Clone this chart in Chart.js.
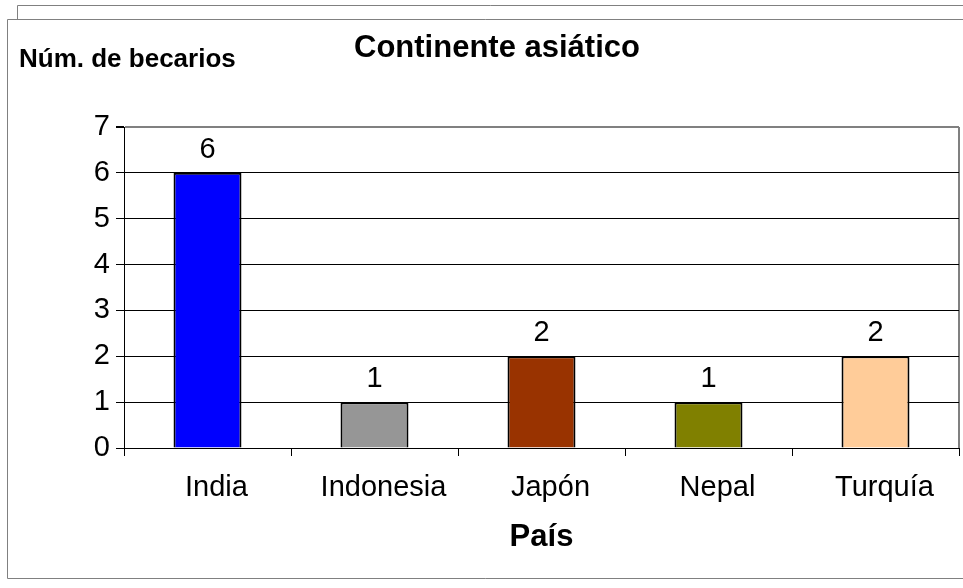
<!DOCTYPE html>
<html>
<head>
<meta charset="utf-8">
<script src="https://cdn.jsdelivr.net/npm/chart.js@4/dist/chart.umd.min.js"></script>
<style>
  html, body { margin: 0; padding: 0; background: #fff; }
  #wrap { width: 963px; height: 588px; }
</style>
</head>
<body>
<div id="wrap"><canvas id="chart" width="963" height="588"></canvas></div>
<script>
const countries = ['India', 'Indonesia', 'Japón', 'Nepal', 'Turquía'];
const scholars = [6, 1, 2, 1, 2];
const barColors = ['#0000FF', '#969696', '#993300', '#808000', '#FFCC99'];
const yTicks = [0, 1, 2, 3, 4, 5, 6, 7];

const FONT = "'Liberation Sans', Arial, sans-serif";

// frame, plot border and texts drawn around the chart
const decor = {
  id: 'decor',
  beforeDraw(chart) {
    const ctx = chart.ctx;
    const a = chart.chartArea;
    ctx.save();
    ctx.fillStyle = '#fff';
    ctx.fillRect(0, 0, chart.width, chart.height);
    ctx.strokeStyle = '#808080';
    ctx.lineWidth = 1;
    ctx.beginPath();
    ctx.moveTo(17.5, 19); ctx.lineTo(17.5, 5.5); ctx.lineTo(963, 5.5);
    ctx.moveTo(963, 19.5); ctx.lineTo(7.5, 19.5); ctx.lineTo(7.5, 578.5); ctx.lineTo(963, 578.5);
    ctx.stroke();
    // plot area border (right side)
    ctx.lineWidth = 2;
    ctx.beginPath();
    ctx.moveTo(a.right, a.top); ctx.lineTo(a.right, a.bottom);
    ctx.stroke();
    ctx.restore();
  },
  afterDraw(chart) {
    const ctx = chart.ctx;
    const a = chart.chartArea;
    ctx.save();
    ctx.fillStyle = '#000';
    ctx.textBaseline = 'alphabetic';
    ctx.font = 'bold 31px ' + FONT;
    ctx.textAlign = 'center';
    ctx.fillText('Continente asiático', 497, 57);
    ctx.fillText('País', (a.left + a.right) / 2, 546);
    ctx.font = 'bold 26px ' + FONT;
    ctx.textAlign = 'left';
    ctx.fillText('Núm. de becarios', 19, 67);
    ctx.restore();
  }
};

const valueLabels = {
  id: 'valueLabels',
  afterDatasetsDraw(chart) {
    const ctx = chart.ctx;
    const meta = chart.getDatasetMeta(0);
    ctx.save();
    ctx.fillStyle = '#000';
    ctx.font = '29px ' + FONT;
    ctx.textAlign = 'center';
    ctx.textBaseline = 'alphabetic';
    meta.data.forEach((bar, i) => {
      ctx.fillText(String(scholars[i]), bar.x, bar.y - 15);
    });
    ctx.restore();
  }
};

new Chart(document.getElementById('chart'), {
  type: 'bar',
  data: {
    labels: countries,
    datasets: [{
      data: scholars,
      backgroundColor: barColors,
      borderColor: '#000',
      borderWidth: 2,
      barPercentage: 0.407,
      categoryPercentage: 1
    }]
  },
  options: {
    responsive: false,
    animation: false,
    layout: { padding: { top: 127, right: 4, left: 0, bottom: 0 } },
    plugins: { legend: { display: false }, title: { display: false }, tooltip: { enabled: false } },
    scales: {
      x: {
        afterFit(scale) { scale.height = 140; },
        grid: { drawOnChartArea: false, drawTicks: true, tickLength: 8, color: '#000', offset: true },
        border: { color: '#000', width: 1 },
        ticks: { color: '#000', font: { family: FONT, size: 29 }, padding: 15, labelOffset: 9, maxRotation: 0 }
      },
      y: {
        min: 0,
        max: 7,
        afterFit(scale) { scale.width = 124; },
        afterBuildTicks(scale) { scale.ticks = yTicks.map(v => ({ value: v })); },
        grid: {
          tickLength: 8,
          color: ctx => (ctx.tick && ctx.tick.value === 7) ? '#808080' : '#000',
          lineWidth: ctx => (ctx.tick && ctx.tick.value === 7) ? 2 : 1,
          tickColor: '#000',
          drawTicks: true
        },
        border: { color: '#000', width: 1 },
        ticks: { color: '#000', font: { family: FONT, size: 29 }, padding: 6 }
      }
    }
  },
  plugins: [decor, valueLabels]
});
</script>
</body>
</html>
